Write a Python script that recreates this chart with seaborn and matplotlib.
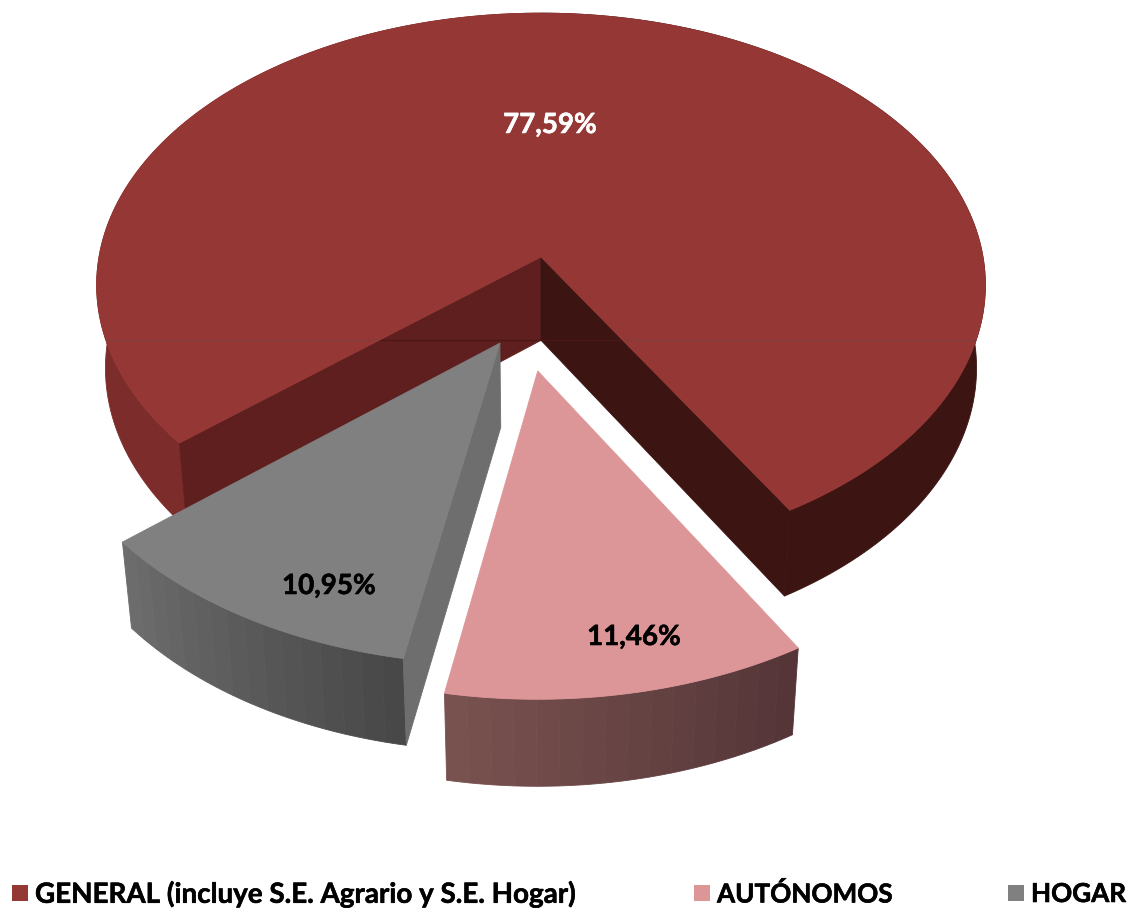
import numpy as np
import matplotlib
matplotlib.use('Agg')
import matplotlib.pyplot as plt
import matplotlib.patheffects as pe
from matplotlib.patches import Polygon
import seaborn as sns

# Data
categories = ['GENERAL (incluye S.E. Agrario y S.E. Hogar)', 'AUTÓNOMOS', 'HOGAR']
shares = [77.59, 11.46, 10.95]

# Colours per slice
top_colors = ['#953735', '#DD9698', '#808080']
wall_left = ['#7C2C2B', '#78524F', '#6C6C6C']
wall_right = ['#3C1513', '#553538', '#484848']
inner_colors = {'start': '#3C1513', 'end': '#5E1F1E'}
gray_side = '#6E6E6E'

# Layout: how the pie is seen and how far slices are pulled out
start_angle = 220.2
offsets = [(0.0, 0.0), (-0.007, -0.406), (-0.09, -0.31)]
cx, cy = 541, 257
rx, ry = 442, 269
persp, shrink, depth = 0.103, 0.02, 85
label_xy = [(550, 125), (634, 637), (329, 586)]
label_colors = ['white', 'black', 'black']
legend_x = [12, 694, 1008]
legend_y = 894
legend_sizes = [20, 18.8, 18.8]
n_bands = 16

sns.set_theme(style='white')
plt.rcParams['font.family'] = ['Lato', 'DejaVu Sans']


def project(x, y, z=0.0):
    # plane coordinates to pixels, z=1 is the bottom of the pie
    w = 1 + persp * y + shrink * z
    return cx + rx * x / w, cy + (-ry * y + depth * z) / w


def arc(a0, a1, off, n=80):
    t = np.radians(np.linspace(a0, a1, n))
    return np.cos(t) + off[0], np.sin(t) + off[1], t


def poly(ax, x, y, color, z):
    return ax.fill(x, y, facecolor=color, edgecolor=color, linewidth=0.6, zorder=z)[0]


fig = plt.figure(figsize=(11.31, 9.08), dpi=100)
ax = fig.add_axes([0, 0, 1, 1])
ax.set_xlim(0, 1131)
ax.set_ylim(908, 0)
ax.axis('off')

sweeps = np.array(shares) / sum(shares) * 360
ends = start_angle - np.cumsum(sweeps)
begins = ends + sweeps
big_top = None

for i in range(len(shares)):
    base = 10 * (i + 1)
    off = offsets[i]
    xs, ys, t = arc(begins[i], ends[i], off, 241)
    tx, ty = project(xs, ys)
    bx, by = project(xs, ys, 1.0)

    # outer wall in bands, shaded along the rim
    c_l = np.array(matplotlib.colors.to_rgb(wall_left[i]))
    c_r = np.array(matplotlib.colors.to_rgb(wall_right[i]))
    if i == 0:
        cut = int(np.argmax(np.cos(t) > 0))
        bands = [(0, cut, 0.0), (cut, len(t) - 1, 1.0)]
    else:
        edges = np.linspace(0, len(t) - 1, n_bands + 1).astype(int)
        bands = [(edges[k], edges[k + 1], 1 - k / (n_bands - 1)) for k in range(n_bands)]
    for j0, j1, f in bands:
        col = c_l + (c_r - c_l) * f
        poly(ax, np.r_[tx[j0:j1 + 1], bx[j0:j1 + 1][::-1]],
             np.r_[ty[j0:j1 + 1], by[j0:j1 + 1][::-1]], col, base)

    # cut faces from the slice centre out to the rim
    ox, oy = project(off[0], off[1])
    ox2, oy2 = project(off[0], off[1], 1.0)
    if i == 0:
        poly(ax, [ox, tx[0], bx[0], ox2], [oy, ty[0], by[0], oy2], inner_colors['end'], base + 1)
        poly(ax, [ox, tx[-1], bx[-1], ox2], [oy, ty[-1], by[-1], oy2], inner_colors['start'], base + 2)
    if i == 2:
        poly(ax, [ox, tx[0], bx[0], ox2], [oy, ty[0], by[0], oy2], gray_side, base + 1)

    # top face
    poly(ax, np.r_[ox, tx], np.r_[oy, ty], top_colors[i], base + 3)
    if i == 0:
        big_top = np.c_[np.r_[ox, tx], np.r_[oy, ty]]

    lab = f'{shares[i]:.2f}%'.replace('.', ',')
    ax.text(label_xy[i][0], label_xy[i][1], lab, color=label_colors[i], ha='center', va='center',
            fontsize=20, fontweight='bold', zorder=60,
            path_effects=[pe.withStroke(linewidth=0.4, foreground=label_colors[i])])

# thin seam across the big slice, darker where it crosses the cut faces
ax.plot([300, 700], [339.5, 339.5], color='#4A1715', lw=0.8, zorder=12.5)
seam, = ax.plot([90, 990], [339.5, 339.5], color='#7E3F3D', lw=0.8, zorder=14)
seam.set_clip_path(Polygon(big_top, closed=True, transform=ax.transData))

# legend
for i, name in enumerate(categories):
    ax.fill([legend_x[i], legend_x[i] + 16, legend_x[i] + 16, legend_x[i]],
            [legend_y - 9, legend_y - 9, legend_y + 7, legend_y + 7],
            color=top_colors[i], lw=0, zorder=60)
    ax.text(legend_x[i] + 23, legend_y, name, color='black', ha='left', va='center',
            fontsize=legend_sizes[i], fontweight='bold', zorder=60,
            path_effects=[pe.withStroke(linewidth=0.4, foreground='black')])

sns.despine(ax=ax, left=True, bottom=True)
fig.savefig('out.png', dpi=100)
